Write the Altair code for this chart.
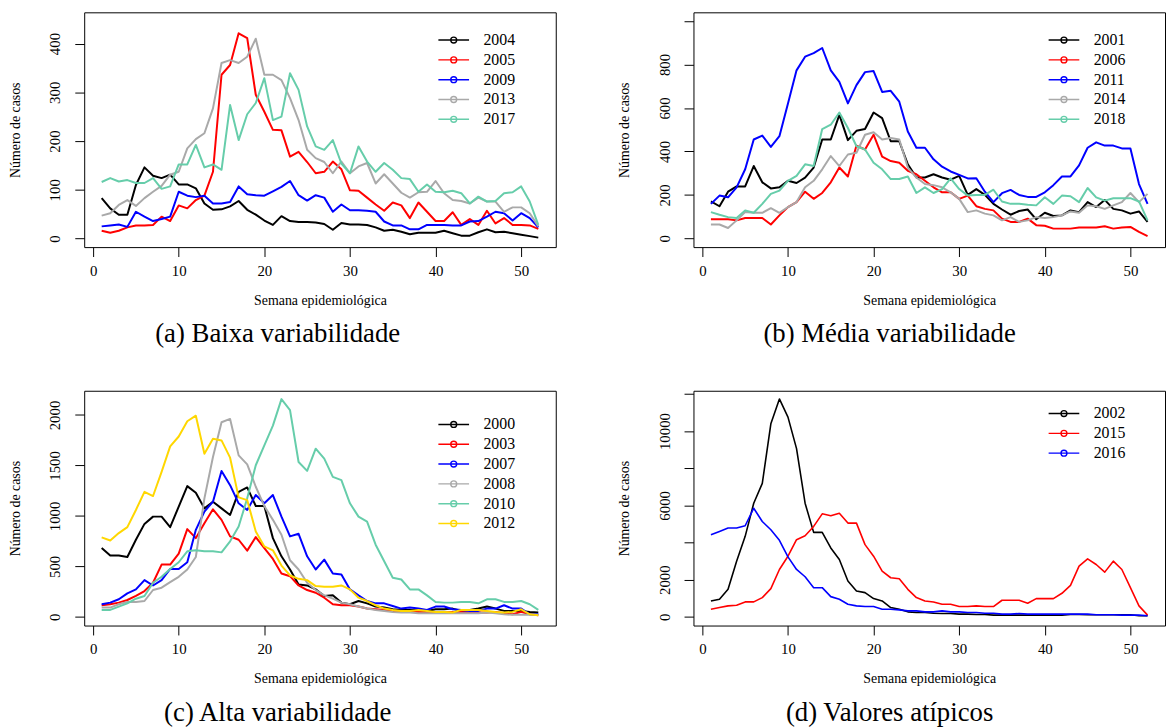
import altair as alt
import pandas as pd

SERIF = "Liberation Serif"
weeks = list(range(1, 53))

# ---------------- (a) Baixa variabilidade ----------------
years_a = ["2004", "2005", "2009", "2013", "2017"]
a_2004 = [83, 62, 49, 49, 110, 146, 129, 124, 131, 111, 111, 103, 72, 59, 60, 66, 77, 59, 49, 37, 28, 46, 36, 34, 34, 33,
          30, 18, 32, 29, 29, 28, 23, 16, 18, 14, 9, 12, 12, 12, 16, 11, 6, 6, 13, 19, 13, 14, 11, 8, 5, 2]
a_2005 = [16, 12, 16, 23, 27, 27, 28, 45, 36, 68, 62, 79, 88, 137, 336, 356, 421, 411, 295, 260, 223, 222, 168, 178, 157, 134,
          137, 158, 142, 99, 98, 84, 70, 57, 74, 68, 42, 74, 55, 36, 36, 54, 28, 40, 28, 57, 31, 42, 28, 28, 27, 20]
a_2009 = [25, 27, 29, 24, 55, 45, 36, 40, 45, 96, 88, 85, 88, 72, 72, 75, 107, 91, 89, 88, 97, 106, 118, 89, 78, 89,
          84, 55, 70, 58, 58, 57, 55, 35, 27, 27, 19, 19, 28, 28, 28, 27, 27, 35, 36, 45, 55, 52, 37, 52, 42, 23]
a_2013 = [47, 52, 69, 79, 67, 83, 96, 108, 131, 137, 185, 204, 216, 267, 360, 366, 360, 373, 410, 336, 336, 325, 288, 243, 182, 165,
          157, 134, 158, 134, 148, 155, 113, 132, 113, 94, 84, 95, 96, 118, 93, 79, 77, 72, 84, 76, 76, 55, 64, 64, 52, 25]
a_2017 = [116, 124, 117, 120, 114, 114, 124, 102, 107, 152, 152, 192, 146, 152, 141, 274, 202, 255, 278, 329, 243, 250, 339, 305, 230, 189,
          182, 202, 154, 134, 189, 158, 137, 155, 141, 124, 122, 96, 111, 96, 95, 98, 93, 72, 86, 76, 77, 93, 95, 107, 76, 28]

# ---------------- (b) Média variabilidade ----------------
years_b = ["2001", "2006", "2011", "2014", "2018"]
b_2001 = [170, 148, 215, 239, 239, 333, 258, 230, 235, 265, 255, 280, 326, 455, 455, 568, 452, 495, 503, 579, 553, 447, 447, 341, 280, 280,
          295, 280, 270, 288, 200, 227, 200, 159, 133, 109, 126, 133, 88, 118, 103, 106, 129, 121, 167, 144, 177, 136, 129, 114, 124, 76]
b_2006 = [88, 88, 88, 83, 94, 94, 94, 64, 106, 144, 167, 215, 182, 209, 258, 326, 285, 427, 409, 477, 376, 356, 348, 311, 295, 265,
          235, 212, 212, 182, 197, 148, 136, 129, 91, 76, 76, 91, 61, 58, 45, 45, 45, 50, 50, 50, 56, 45, 50, 53, 30, 11]
b_2011 = [159, 197, 189, 235, 318, 455, 473, 421, 470, 621, 773, 836, 852, 876, 773, 720, 621, 705, 765, 770, 674, 679, 629, 492, 417, 417,
          364, 330, 308, 292, 276, 277, 215, 167, 208, 223, 200, 191, 191, 212, 245, 285, 285, 336, 417, 442, 427, 427, 414, 414, 250, 159]
b_2014 = [64, 64, 48, 83, 121, 118, 118, 139, 118, 144, 167, 235, 265, 318, 379, 333, 386, 394, 477, 488, 455, 462, 455, 326, 280, 250,
          245, 235, 212, 182, 121, 129, 114, 106, 83, 98, 76, 83, 98, 94, 98, 106, 124, 118, 152, 148, 136, 152, 167, 209, 167, 205]
b_2018 = [121, 109, 98, 94, 129, 118, 159, 205, 220, 265, 288, 341, 333, 503, 523, 579, 508, 424, 409, 348, 318, 273, 273, 285, 209, 235,
          209, 227, 276, 227, 197, 200, 200, 224, 170, 159, 159, 155, 152, 189, 159, 197, 194, 167, 232, 189, 174, 185, 185, 185, 170, 83]

# ---------------- (c) Alta variabilidade ----------------
years_c = ["2000", "2003", "2007", "2008", "2010", "2012"]
c_2000 = [682, 607, 607, 593, 764, 921, 993, 993, 889, 1092, 1295, 1230, 1075, 1141, 1075, 1010, 1239, 1282, 1098, 1098, 780, 600, 469, 321, 311, 272,
          207, 213, 141, 125, 157, 134, 102, 92, 75, 69, 69, 69, 59, 75, 75, 82, 59, 69, 82, 102, 82, 59, 59, 59, 49, 43]
c_2003 = [115, 125, 141, 167, 207, 256, 338, 518, 518, 626, 869, 780, 928, 1066, 961, 797, 764, 656, 790, 682, 574, 430, 403, 311, 266, 239,
          190, 125, 115, 115, 102, 82, 75, 69, 59, 49, 49, 49, 43, 43, 43, 49, 49, 43, 43, 43, 49, 36, 26, 49, 26, 16]
c_2007 = [125, 141, 174, 233, 272, 364, 311, 364, 475, 475, 541, 862, 1043, 1141, 1446, 1305, 1125, 1059, 1207, 1125, 1207, 993, 797, 823, 600, 469,
          567, 430, 420, 272, 213, 157, 134, 134, 108, 82, 92, 82, 69, 102, 102, 75, 69, 59, 59, 82, 82, 115, 82, 82, 26, 26]
c_2008 = [92, 92, 125, 148, 148, 157, 266, 289, 344, 397, 469, 593, 1174, 1584, 1928, 1961, 1600, 1511, 1289, 1098, 961, 813, 561, 469, 338, 266,
          213, 180, 141, 125, 102, 82, 69, 59, 49, 43, 43, 36, 36, 36, 36, 36, 36, 36, 36, 43, 36, 26, 20, 20, 20, 20]
c_2010 = [69, 69, 102, 134, 180, 207, 338, 397, 475, 541, 649, 659, 649, 649, 639, 748, 895, 1174, 1502, 1698, 1895, 2157, 2049, 1534, 1446, 1666,
          1567, 1387, 1354, 1125, 993, 944, 715, 551, 387, 370, 272, 272, 213, 148, 141, 141, 148, 148, 134, 174, 174, 148, 148, 157, 125, 69]
c_2012 = [787, 757, 830, 889, 1059, 1239, 1197, 1436, 1689, 1787, 1938, 1993, 1616, 1764, 1748, 1577, 1184, 1157, 846, 698, 659, 508, 410, 377, 364, 305,
          298, 298, 311, 272, 190, 157, 115, 82, 69, 59, 59, 69, 59, 49, 49, 43, 69, 69, 69, 59, 49, 43, 49, 75, 26, 16]

# ---------------- (d) Valores atípicos ----------------
years_d = ["2002", "2015", "2016"]
d_2002 = [856, 945, 1480, 2995, 4332, 6114, 7184, 10392, 11729, 10749, 9055, 6114, 4545, 4545, 3708, 3084, 1925, 1390, 1301, 980, 856, 499, 410, 267, 232, 232,
          196, 178, 178, 143, 143, 125, 125, 89, 89, 89, 89, 89, 89, 89, 89, 89, 125, 125, 107, 107, 107, 107, 107, 107, 53, 53]
d_2015 = [410, 499, 588, 624, 802, 802, 1034, 1515, 2549, 3262, 4153, 4367, 4866, 5544, 5437, 5579, 5045, 5045, 3886, 3262, 2460, 2103, 2050, 1480, 1034, 856,
          802, 677, 677, 553, 553, 588, 553, 553, 891, 891, 891, 731, 980, 980, 980, 1266, 1693, 2727, 3119, 2816, 2406, 2995, 2549, 1569, 588, 89]
d_2016 = [4421, 4599, 4777, 4777, 4902, 5847, 5134, 4688, 4118, 3226, 2549, 2157, 1569, 1569, 1087, 945, 677, 588, 553, 553, 410, 410, 374, 321, 321, 267,
          267, 321, 267, 267, 232, 232, 196, 196, 143, 143, 178, 143, 143, 143, 143, 143, 143, 143, 143, 107, 107, 107, 89, 89, 89, 53]

colors_5 = ["#000000", "#FF0000", "#0000FF", "#A9A9A9", "#66CDAA"]
colors_6 = ["#000000", "#FF0000", "#0000FF", "#A9A9A9", "#66CDAA", "#FFD700"]
colors_3 = ["#000000", "#FF0000", "#0000FF"]

x_ticks = [0, 10, 20, 30, 40, 50]
y_ticks_a = [0, 100, 200, 300, 400]
y_ticks_b = [0, 200, 400, 600, 800, 1000]
y_labels_b = [0, 200, 400, 600, 800]
y_ticks_c = [0, 500, 1000, 1500, 2000]
y_ticks_d = [0, 2000, 4000, 6000, 8000, 10000, 12000]
y_labels_d = [0, 2000, 6000, 10000]

x_title = "Semana epidemiológica"
y_title = "Número de casos"

W, H = 476, 237
X_DOMAIN = [-1.04, 54.04]
SYMBOL = "M-2.58,0H2.58M0.5,0A0.5,0.5,0,1,1,-0.5,0A0.5,0.5,0,1,1,0.5,0"


def long_df(years, series):
    rows = []
    for yr, vals in zip(years, series):
        for w, v in zip(weeks, vals):
            rows.append({"semana": w, "casos": v, "ano": yr})
    return pd.DataFrame(rows)


def panel(years, series, colors, y_domain, y_ticks, y_labels, caption, cap_dx, leg_x, leg_y, sw):
    df = long_df(years, series)
    label_expr = "indexof(%s, datum.value) >= 0 ? datum.label : ''" % str(list(y_labels))
    return alt.Chart(df).mark_line(strokeWidth=sw, strokeJoin="round").encode(
        x=alt.X("semana:Q",
                scale=alt.Scale(domain=X_DOMAIN, nice=False, zero=False),
                axis=alt.Axis(values=x_ticks, title=x_title, titleX=W / 2, titleY=58)),
        y=alt.Y("casos:Q",
                scale=alt.Scale(domain=y_domain, nice=False, zero=False),
                axis=alt.Axis(values=y_ticks, title=y_title, format="d", labelExpr=label_expr,
                              titleX=-65.5, titleY=H / 2)),
        color=alt.Color("ano:N", scale=alt.Scale(domain=years, range=colors),
                        legend=alt.Legend(title=None, orient="none", legendX=leg_x, legendY=leg_y,
                                          direction="vertical", symbolType=SYMBOL, symbolSize=144,
                                          symbolStrokeWidth=1.4, labelFont=SERIF, labelFontSize=16,
                                          labelColor="black", labelOffset=22, rowPadding=4, padding=0)),
    ).properties(
        width=W, height=H,
        title=alt.TitleParams(text=caption, orient="bottom", anchor="middle", dx=cap_dx, offset=35,
                              fontSize=27, font=SERIF, fontWeight="normal", color="black",
                              baseline="alphabetic"),
    )


pa = panel(years_a, [a_2004, a_2005, a_2009, a_2013, a_2017], colors_5, [-17.5, 464], y_ticks_a, y_ticks_a,
           "(a) Baixa variabilidade", -42.7, 365, 20, 2)
pb = panel(years_b, [b_2001, b_2006, b_2011, b_2014, b_2018], colors_5, [-40, 1040], y_ticks_b, y_labels_b,
           "(b) Média variabilidade", -40, 366, 20, 2)
pc = panel(years_c, [c_2000, c_2003, c_2007, c_2008, c_2010, c_2012], colors_6, [-86, 2240], y_ticks_c, y_ticks_c,
           "(c) Alta variabilidade", -42.7, 365, 26, 2)
pd_ = panel(years_d, [d_2002, d_2015, d_2016], colors_3, [-470, 12170], y_ticks_d, y_labels_d,
            "(d) Valores atípicos", -40, 366, 15, 1.6)

chart = alt.concat(pa, pb, pc, pd_, columns=2, spacing={"row": 145, "column": 139}, bounds="flush").resolve_scale(
    color="independent"
).resolve_legend(color="independent").properties(
    padding={"left": 8, "top": 8, "right": 0, "bottom": 0},
    background="white",
).configure_view(
    stroke="black", strokeWidth=1
).configure_axis(
    labelFont=SERIF, labelFontSize=15, labelColor="black",
    titleFont=SERIF, titleFontSize=14, titleFontWeight="normal", titleColor="black",
    tickColor="black", tickWidth=1, grid=False, domain=False, tickSize=9.5,
    labelFlush=False, labelOverlap=False,
).configure_axisX(
    labelBaseline="alphabetic", labelAlign="center", labelPadding=18.9,
    titleBaseline="alphabetic", titleAlign="center",
).configure_axisY(
    labelAngle=270, labelAlign="center", labelBaseline="alphabetic", labelPadding=15,
    titleAngle=270, titleAlign="center", titleBaseline="alphabetic",
)

chart.save("out.html", embed_options={"renderer": "svg", "actions": False})
